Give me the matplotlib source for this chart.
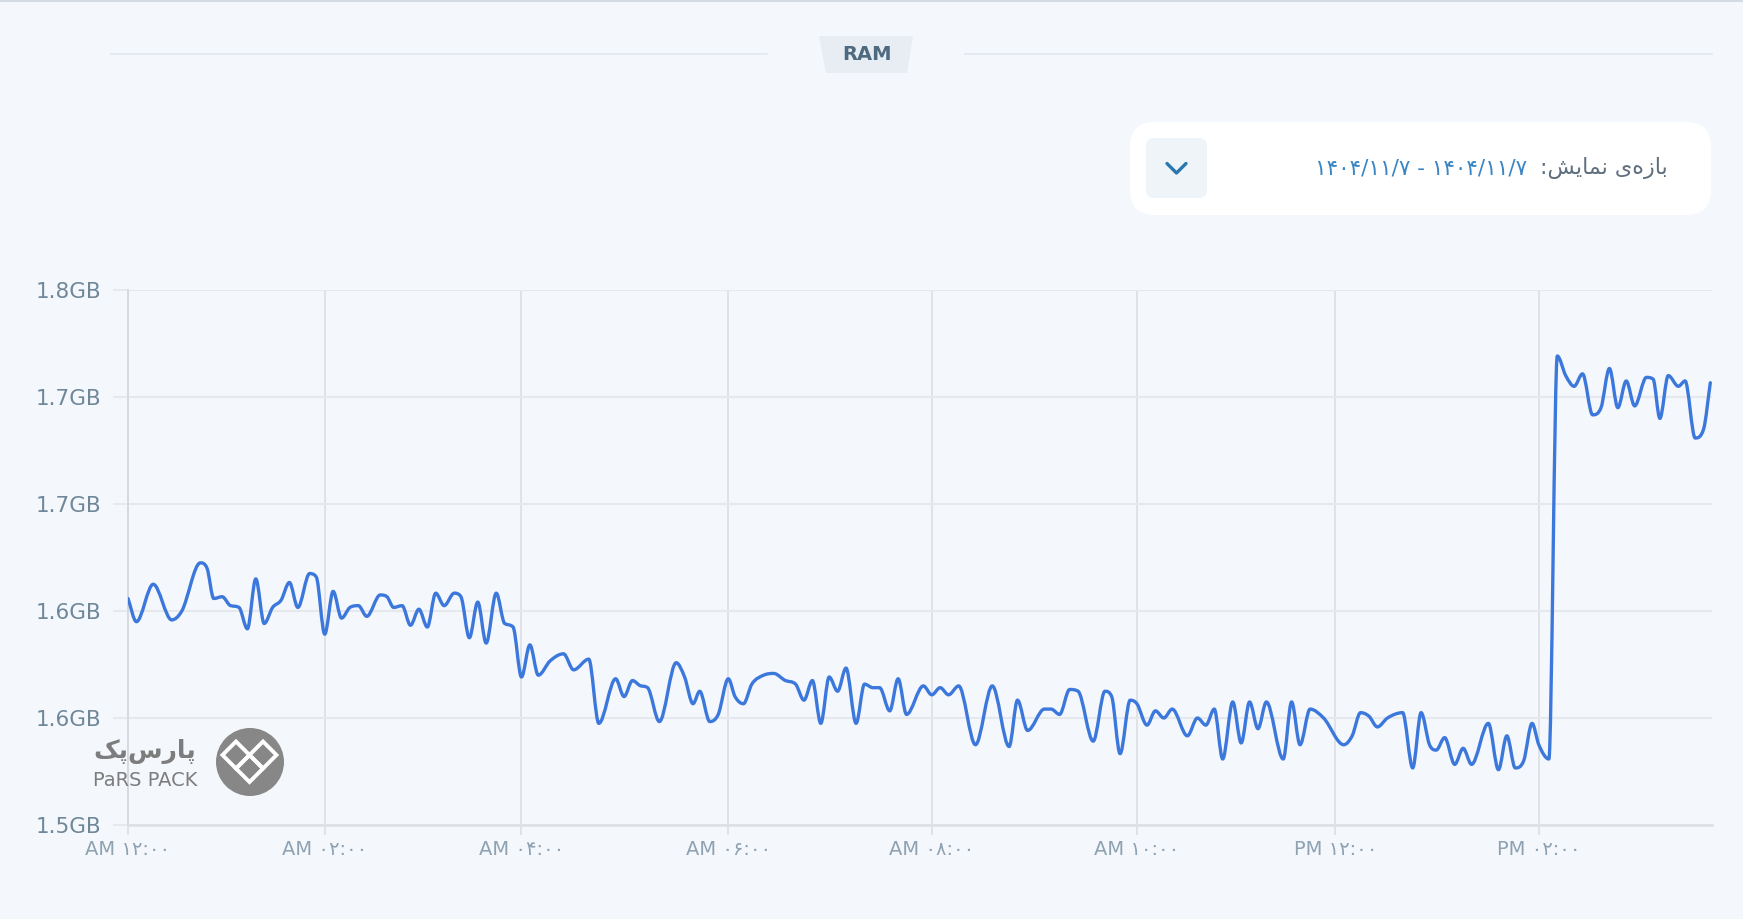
import numpy as np
import matplotlib
matplotlib.use("Agg")
from matplotlib import pyplot as plt
from matplotlib.path import Path
from matplotlib.patches import PathPatch, FancyBboxPatch, Polygon, Circle

# RAM usage, minutes since 00:00 and GB
t_min = [
    0, 5, 15, 26, 32, 43, 47, 51, 56, 61,
    66, 71, 76, 81, 86, 91, 96, 101, 108, 112,
    117, 122, 127, 132, 137, 142, 150, 154, 158, 163,
    168, 173, 178, 183, 188, 194, 198, 203, 208, 213,
    219, 224, 229, 234, 239, 244, 251, 259, 265, 274,
    280, 290, 295, 300, 305, 309, 316, 326, 331, 336,
    340, 346, 351, 357, 361, 366, 371, 378, 384, 391,
    397, 402, 407, 412, 417, 422, 427, 433, 438, 443,
    447, 453, 458, 463, 473, 478, 483, 488, 494, 504,
    514, 524, 529, 535, 545, 549, 554, 560, 565, 574,
    581, 585, 590, 596, 600, 606, 611, 616, 621, 630,
    636, 641, 646, 651, 657, 662, 667, 672, 677, 687,
    692, 697, 703, 711, 723, 728, 733, 738, 743, 749,
    758, 764, 769, 774, 778, 783, 789, 794, 799, 809,
    815, 820, 825, 830, 835, 839, 845, 850, 855, 860,
    865, 871, 876, 881, 886, 891, 896, 903, 907, 911,
    916, 922, 926, 932, 937, 941,
]
ram_gb = [
    1.627, 1.614, 1.635, 1.615, 1.620, 1.647, 1.644, 1.627, 1.628, 1.623,
    1.622, 1.610, 1.638, 1.613, 1.622, 1.626, 1.636, 1.622, 1.641, 1.639,
    1.607, 1.631, 1.616, 1.622, 1.623, 1.617, 1.629, 1.628, 1.622, 1.623,
    1.612, 1.621, 1.611, 1.630, 1.623, 1.630, 1.628, 1.605, 1.625, 1.602,
    1.630, 1.613, 1.611, 1.583, 1.601, 1.584, 1.592, 1.596, 1.587, 1.593,
    1.557, 1.582, 1.572, 1.581, 1.578, 1.577, 1.558, 1.591, 1.583, 1.568,
    1.575, 1.558, 1.562, 1.582, 1.572, 1.568, 1.579, 1.584, 1.585, 1.581,
    1.579, 1.570, 1.581, 1.557, 1.583, 1.575, 1.588, 1.557, 1.579, 1.577,
    1.577, 1.564, 1.582, 1.562, 1.578, 1.573, 1.577, 1.573, 1.578, 1.545,
    1.578, 1.544, 1.570, 1.553, 1.565, 1.565, 1.562, 1.576, 1.575, 1.547,
    1.575, 1.572, 1.540, 1.570, 1.568, 1.556, 1.564, 1.560, 1.565, 1.550,
    1.560, 1.556, 1.565, 1.537, 1.569, 1.546, 1.569, 1.554, 1.569, 1.537,
    1.569, 1.545, 1.565, 1.560, 1.545, 1.550, 1.563, 1.561, 1.555, 1.560,
    1.563, 1.532, 1.563, 1.545, 1.542, 1.549, 1.534, 1.543, 1.534, 1.557,
    1.531, 1.550, 1.532, 1.536, 1.557, 1.545, 1.537, 1.763, 1.752, 1.746,
    1.753, 1.730, 1.734, 1.756, 1.734, 1.749, 1.735, 1.751, 1.750, 1.728,
    1.752, 1.746, 1.749, 1.717, 1.722, 1.748,
]

tick_min = [0, 117, 234, 357, 478, 600, 718, 839]
tick_labels = ["AM ۱۲:۰۰", "AM ۰۲:۰۰", "AM ۰۴:۰۰", "AM ۰۶:۰۰",
               "AM ۰۸:۰۰", "AM ۱۰:۰۰", "PM ۱۲:۰۰", "PM ۰۲:۰۰"]
y_ticks = [1.5, 1.56, 1.62, 1.68, 1.74, 1.8]

title = "RAM"
# "بازه‌ی نمایش:" written in shaped forms, visual order
range_label = ":\uFEB6\uFBFE\uFE8E\uFEE4\uFEE7 \uFBFC\uFEE9\uFEAF\uFE8E\uFE91"
range_dates = "۱۴۰۴/۱۱/۷ - ۱۴۰۴/۱۱/۷"
# "پارس‌پک"
logo_fa = "\uFB8F\uFB58\uFEB1\uFEAD\uFE8E\uFB58"
logo_en = "PaRS PACK"

BG = "#f4f7fc"
LINE = "#3c78dc"
GRID_H = "#e5e8ec"
GRID_V = "#dde1e5"


def monotone_path(x, y):
    # monotone cubic through the points, like chart.js "monotone"
    x = np.asarray(x, float)
    y = np.asarray(y, float)
    dx = np.diff(x)
    d = np.diff(y) / dx
    m = np.zeros_like(y)
    m[0] = d[0]
    m[-1] = d[-1]
    for k in range(1, len(y) - 1):
        if d[k - 1] * d[k] > 0:
            m[k] = (d[k - 1] + d[k]) / 2
    for k in range(len(d)):
        if d[k] == 0:
            m[k] = m[k + 1] = 0
            continue
        a = m[k] / d[k]
        b = m[k + 1] / d[k]
        s = a * a + b * b
        if s > 9:
            tau = 3 / np.sqrt(s)
            m[k] = tau * a * d[k]
            m[k + 1] = tau * b * d[k]
    verts = [(x[0], y[0])]
    codes = [Path.MOVETO]
    for k in range(len(dx)):
        h = dx[k] / 3
        verts += [(x[k] + h, y[k] + m[k] * h),
                  (x[k + 1] - h, y[k + 1] - m[k + 1] * h),
                  (x[k + 1], y[k + 1])]
        codes += [Path.CURVE4] * 3
    return Path(verts, codes)


plt.rcParams["font.family"] = ["DejaVu Sans"]

fig = plt.figure(figsize=(17.43, 9.19), dpi=100)
fig.patch.set_facecolor(BG)

ax = fig.add_axes([128 / 1743, 1 - 825 / 919, (1712 - 128) / 1743, (825 - 290) / 919])
ax.set_facecolor(BG)

ax.add_patch(PathPatch(monotone_path(t_min, ram_gb), facecolor="none", edgecolor=LINE,
                       lw=2.4, capstyle="round", joinstyle="round", zorder=3))

ax.set_xlim(0, 942)
ax.set_ylim(1.5, 1.8)
ax.set_xticks(tick_min, labels=tick_labels)
ax.set_yticks(y_ticks, labels=[f"{v:.1f}GB" for v in y_ticks])

ax.grid(axis="y", color=GRID_H, lw=1.5)
ax.grid(axis="x", color=GRID_V, lw=1.3)
ax.set_axisbelow(True)
for s in ["top", "right"]:
    ax.spines[s].set_visible(False)
ax.spines["left"].set_color("#d6dadf")
ax.spines["left"].set_linewidth(1.4)
ax.spines["bottom"].set_color("#dcdfe3")
ax.spines["bottom"].set_linewidth(1.8)

ax.tick_params(axis="y", length=11, width=1.3, color=GRID_H, pad=8,
               labelsize=15.5, labelcolor="#6f8799")
ax.tick_params(axis="x", length=7, width=1.3, color=GRID_V, pad=4,
               labelsize=14, labelcolor="#8ea2b2")

# overlay in pixel units for the page furniture
ov = fig.add_axes([0, 0, 1, 1])
ov.set_xlim(0, 1743)
ov.set_ylim(919, 0)
ov.axis("off")
ov.set_zorder(5)

ov.plot([0, 1743], [1, 1], color="#d5dbe2", lw=1.5)
ov.plot([111, 767], [54, 54], color="#e3e8ee", lw=1.2)
ov.plot([965, 1712], [54, 54], color="#e3e8ee", lw=1.2)
ov.add_patch(Polygon([(819, 36), (913, 36), (907, 73), (826, 73)],
                     closed=True, facecolor="#e8edf3", edgecolor="none"))
ov.text(867, 54, title, ha="center", va="center", fontsize=14,
        fontweight="bold", color="#4d6a80")

ov.add_patch(FancyBboxPatch((1130, 122), 581, 93, boxstyle="round,pad=0,rounding_size=25",
                            facecolor="white", edgecolor="none"))
ov.add_patch(FancyBboxPatch((1146, 138), 61, 60, boxstyle="round,pad=0,rounding_size=8",
                            facecolor="#eef4f8", edgecolor="none"))
ov.plot([1167, 1176.5, 1186], [163.5, 173, 163.5], color="#2a78b0", lw=2.4,
        solid_capstyle="round", solid_joinstyle="round")
ov.text(1668, 168, range_label, ha="right", va="center", fontsize=16, color="#5f6f7d")
ov.text(1527, 168, range_dates, ha="right", va="center", fontsize=15.5, color="#3a86c4")

ov.add_patch(Circle((250, 762), 34, facecolor="#878787", edgecolor="none"))
dd = 13.5
for cx, cy in [(236, 755), (263, 755), (249.5, 768.5)]:
    ov.add_patch(Polygon([(cx, cy - dd), (cx + dd, cy), (cx, cy + dd), (cx - dd, cy)],
                         closed=True, facecolor="none", edgecolor="white", lw=2.8,
                         joinstyle="miter"))
ov.text(145, 751, logo_fa, ha="center", va="center", fontsize=18,
        fontweight="bold", color="#7d7d7d")
ov.text(145, 781, logo_en, ha="center", va="center", fontsize=14, color="#7d7d7d")

fig.savefig("out.png", dpi=100, facecolor=BG)
